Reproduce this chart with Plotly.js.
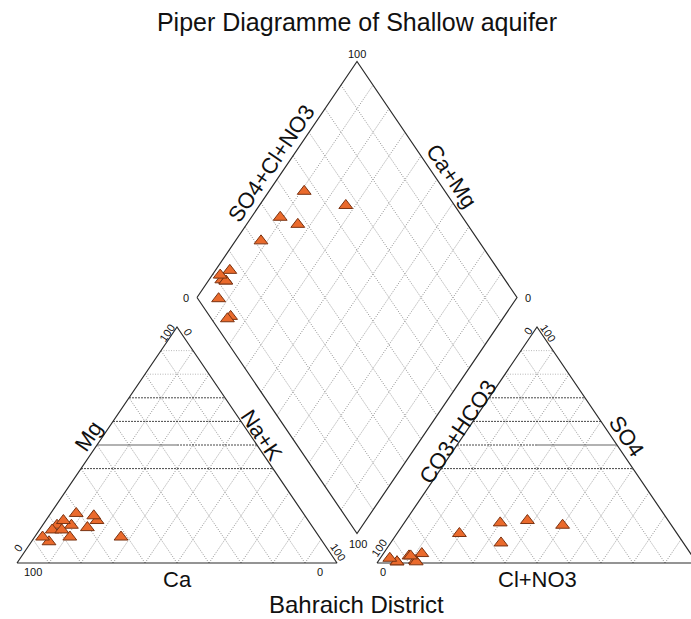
<!DOCTYPE html>
<html>
<head>
<meta charset="utf-8">
<script src="https://cdn.plot.ly/plotly-3.0.1.min.js"></script>
<style>
  html, body { margin: 0; padding: 0; background: #fff; }
  #piper { width: 691px; height: 619px; }
</style>
</head>
<body>
<div id="piper"></div>
<script>
// sample compositions in % (cations, then anions), one entry per well
let ca   = [78, 62, 75, 66, 71, 79.5, 82, 76.5, 79, 70.5, 66, 85.5, 86.5];
let mg   = [11, 11, 16, 18, 21, 16, 14, 18, 14, 15, 20, 9, 11];
let nak  = [11, 27, 9, 16, 8, 4.5, 4, 5.5, 7, 14.5, 14, 5.5, 2.5];
let hco3 = [44, 34, 57, 53, 68, 84, 88.5, 87.5, 93.5, 93.5, 95, 87.5, 88];
let so4  = [18, 16, 8.5, 17, 12.5, 4, 3, 1, 0.5, 0.5, 2, 0.5, 3];
let cl   = [38, 50, 34.5, 30, 19.5, 12, 8.5, 11.5, 6, 6, 3, 12, 9];

let gridSteps = [10, 20, 30, 40, 50, 60, 70, 80, 90];

// geometry: triangle side = 1, gap between triangles
const g = 0.125;
const s = Math.sqrt(3) / 2;

function cationXY(a, b, c) { // Ca, Mg, Na+K
    let t = a + b + c;
    return [(c + b / 2) / t, s * b / t];
}
function anionXY(a, b, c) { // HCO3, SO4, Cl
    let t = a + b + c;
    return [1 + g + (c + b / 2) / t, s * b / t];
}
function diamondXY(q, p) { // q = Na+K fraction, p = SO4+Cl fraction
    return [0.5 + g / 2 + 0.5 * (p + q), s * (1 + g) + s * (p - q)];
}

// pixel helpers, only used for label placement
function px(x) { return (x - 17) / 320; }
function py(y) { return (563 - y) / 272.5; }

function seg(arr, x0, y0, x1, y1) {
    arr.x.push(x0, x1, null);
    arr.y.push(y0, y1, null);
}

let dotGrid = {x: [], y: []};
let darkDash = {x: [], y: []};
let lightDot = {x: [], y: []};
let solidGray = {x: [], y: []};
let outline = {x: [], y: []};

[0, 1 + g].forEach(function (ox) {
    gridSteps.forEach(function (v) {
        let t = v / 100;
        // parallel to left edge
        seg(dotGrid, ox + t, 0, ox + t + (1 - t) / 2, s * (1 - t));
        // parallel to right edge
        seg(dotGrid, ox + 1 - t, 0, ox + (1 - t) / 2, s * (1 - t));
        if (v >= 40) {
            let xl = ox + t / 2, xr = ox + 1 - t / 2, yy = s * t;
            if (v >= 80) seg(lightDot, xl, yy, xr, yy);
            else if (v == 50) {
                if (ox == 0) { seg(solidGray, xl, yy, ox + 0.5, yy); seg(darkDash, ox + 0.5, yy, xr, yy); }
                else { seg(darkDash, xl, yy, ox + 0.5, yy); seg(solidGray, ox + 0.5, yy, xr, yy); }
            }
            else seg(darkDash, xl, yy, xr, yy);
        }
    });
    outline.x.push(ox, ox + 1, ox + 0.5, ox, null);
    outline.y.push(0, 0, s, 0, null);
});

// diamond
let L = diamondXY(0, 0), T = diamondXY(0, 1), B = diamondXY(1, 0), R = diamondXY(1, 1);
gridSteps.forEach(function (v) {
    let t = v / 100;
    let a = diamondXY(0, t), b = diamondXY(1, t);
    seg(dotGrid, a[0], a[1], b[0], b[1]);
    a = diamondXY(t, 0); b = diamondXY(t, 1);
    seg(dotGrid, a[0], a[1], b[0], b[1]);
});
outline.x.push(L[0], T[0], R[0], B[0], L[0]);
outline.y.push(L[1], T[1], R[1], B[1], L[1]);

// sample positions
let catPts = {x: [], y: []}, anPts = {x: [], y: []}, diaPts = {x: [], y: []};
for (let i = 0; i < ca.length; ++i) {
    let c = cationXY(ca[i], mg[i], nak[i]);
    catPts.x.push(c[0]); catPts.y.push(c[1]);
    let a = anionXY(hco3[i], so4[i], cl[i]);
    anPts.x.push(a[0]); anPts.y.push(a[1]);
    let q = nak[i] / (ca[i] + mg[i] + nak[i]);
    let p = (so4[i] + cl[i]) / (hco3[i] + so4[i] + cl[i]);
    let d = diamondXY(q, p);
    diaPts.x.push(d[0]); diaPts.y.push(d[1]);
}

function lineTrace(d, color, width, dash) {
    return {x: d.x, y: d.y, mode: 'lines', hoverinfo: 'skip',
            line: {color: color, width: width, dash: dash}};
}
let marker = {
    symbol: 'triangle-up',
    size: 12,
    color: '#ea6a2c',
    line: {color: '#7a3312', width: 1},
};
function ptTrace(d) {
    return {x: d.x, y: d.y, mode: 'markers', marker: marker};
}

let data = [
    lineTrace(dotGrid, '#777777', 0.8, '1px,1.5px'),
    lineTrace(lightDot, '#a8a8a8', 0.8, '1px,1.5px'),
    lineTrace(darkDash, '#333333', 0.9, '2px,1px'),
    lineTrace(solidGray, '#666666', 1.2, 'solid'),
    lineTrace(outline, '#2b2b2b', 1.2, 'solid'),
    ptTrace(catPts),
    ptTrace(anPts),
    ptTrace(diaPts),
];

function lab(text, x, y, size, angle) {
    return {text: text, x: px(x), y: py(y), xref: 'x', yref: 'y', showarrow: false,
            textangle: angle || 0, font: {family: 'Liberation Sans, Arial, sans-serif', size: size, color: '#111'}};
}
const ang = 56;
let annotations = [
    // axis names
    lab('Ca', 177, 579, 22),
    lab('Mg', 88, 436, 22, -ang),
    lab('Na+K', 262, 435, 22, ang),
    lab('Cl+NO3', 537, 579, 22),
    lab('CO3+HCO3', 457, 432, 22, -ang),
    lab('SO4', 627, 436, 22, ang),
    lab('SO4+Cl+NO3', 271, 163, 22, -ang),
    lab('Ca+Mg', 452, 176, 22, ang),
    // tick labels
    lab('100', 33, 572, 11),
    lab('0', 320, 572, 11),
    lab('0', 18, 548, 11, -ang),
    lab('100', 167, 333, 11, -ang),
    lab('0', 188, 332, 11, ang),
    lab('100', 338, 552, 11, ang),
    lab('0', 383, 572, 11),
    lab('100', 695, 572, 11),
    lab('100', 379, 548, 11, -ang),
    lab('0', 528, 331, 11, -ang),
    lab('100', 548, 333, 11, ang),
    lab('0', 697, 549, 11, ang),
    lab('100', 357, 54, 11),
    lab('0', 186, 298, 11),
    lab('0', 528, 298, 11),
    lab('100', 358, 544, 11),
    lab('Bahraich District', 356, 604, 24),
];

let layout = {
    title: {
        text: 'Piper Diagramme of Shallow aquifer',
        font: {family: 'Liberation Sans, Arial, sans-serif', size: 25, color: '#111'},
        x: 357 / 691, xanchor: 'center',
        y: 1 - 22 / 619, yanchor: 'middle',
    },
    width: 691,
    height: 619,
    margin: {l: 0, r: 0, t: 0, b: 0, pad: 0},
    showlegend: false,
    xaxis: {range: [px(0), px(691)], visible: false, fixedrange: true},
    yaxis: {range: [py(619), py(0)], visible: false, fixedrange: true},
    annotations: annotations,
    paper_bgcolor: '#ffffff',
    plot_bgcolor: '#ffffff',
};

Plotly.newPlot('piper', data, layout, {staticPlot: true});
</script>
</body>
</html>
